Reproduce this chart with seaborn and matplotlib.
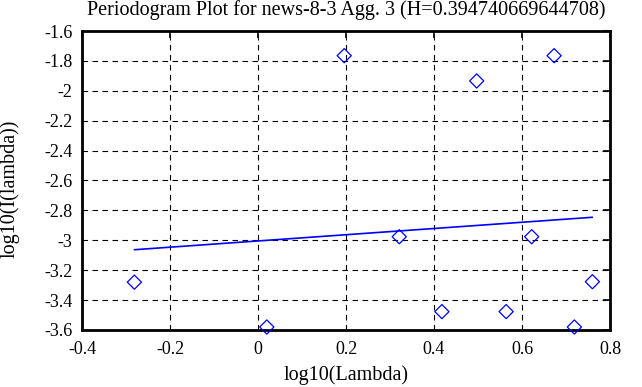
import matplotlib
matplotlib.use("Agg")
import matplotlib.pyplot as plt
import seaborn as sns
import pandas as pd
from matplotlib.ticker import FuncFormatter, MultipleLocator

# data
log_lambda = [-0.281, 0.020, 0.196, 0.321, 0.418, 0.497, 0.564, 0.622, 0.673, 0.719, 0.760]
log_I = [-3.280, -3.580, -1.765, -2.976, -3.477, -1.934, -3.477, -2.976, -1.765, -3.580, -3.277]
fit_x = [-0.281, 0.760]
fit_y = [-3.063, -2.846]
title = "Periodogram Plot for news-8-3 Agg. 3 (H=0.394740669644708)"

sns.set_theme(style="white")
plt.rcParams["font.family"] = ["Liberation Serif", "DejaVu Serif"]
plt.rcParams["axes.unicode_minus"] = False

W, H = 642, 387
L, R, T, B = 82, 610, 31, 330
fig = plt.figure(figsize=(W/100, H/100), dpi=100)
ax = fig.add_axes([L/W, 1-B/H, (R-L)/W, (B-T)/H])

pts = pd.DataFrame({"x": log_lambda, "y": log_I})
fit = pd.DataFrame({"x": fit_x, "y": fit_y})

sns.lineplot(data=fit, x="x", y="y", ax=ax, color="#0000ff", linewidth=1.2, zorder=3)
sns.scatterplot(data=pts, x="x", y="y", ax=ax, marker="D", s=52,
                facecolor="none", edgecolor="#0000ff", linewidth=0.9, zorder=4,
                clip_on=False)

ax.set_xlim(-0.4, 0.8)
ax.set_ylim(-3.6, -1.6)
ax.xaxis.set_major_locator(MultipleLocator(0.2))
ax.yaxis.set_major_locator(MultipleLocator(0.2))
fmt = FuncFormatter(lambda v, p: "%g" % round(v, 6))
ax.xaxis.set_major_formatter(fmt)
ax.yaxis.set_major_formatter(fmt)

ax.grid(True, color="black", linestyle=(0, (5, 4)), linewidth=0.8)
for s in ax.spines.values():
    s.set_color("black")
    s.set_linewidth(2.0)
ax.tick_params(direction="in", length=5, width=1.2, top=True, right=True,
               labelsize=13, colors="black")
ax.tick_params(axis="x", pad=8)
ax.tick_params(axis="y", pad=7)

ax.set_xlabel("log10(Lambda)", fontsize=14.5, color="black")
ax.xaxis.set_label_coords(0.5, (B-375)/(B-T))
ax.xaxis.label.set_va("center")
ax.set_ylabel("log10(I(lambda))", fontsize=14.5, color="black")
ax.yaxis.set_label_coords((10-L)/(R-L), (B-189)/(B-T))
ax.yaxis.label.set_va("center")
ax.set_title(title, fontsize=14.5, color="black", y=1+(T-10)/(B-T), va="center", pad=0)

fig.savefig("out.png", dpi=100)
